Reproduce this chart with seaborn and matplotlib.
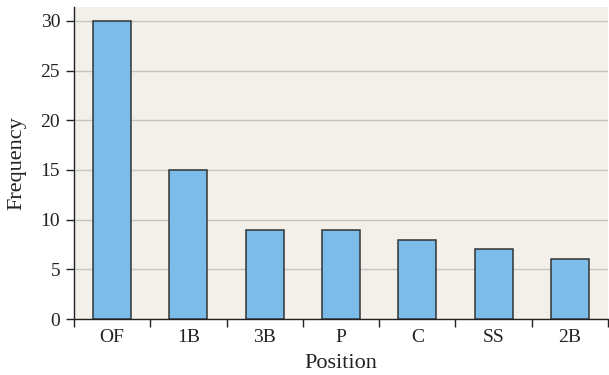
import matplotlib
matplotlib.use("Agg")
import matplotlib.pyplot as plt
import seaborn as sns
import pandas as pd
from matplotlib.ticker import FixedLocator

positions = ["OF", "1B", "3B", "P", "C", "SS", "2B"]
frequency = [30, 15, 9, 9, 8, 7, 6]
y_ticks = [0, 5, 10, 15, 20, 25, 30]

df = pd.DataFrame({"Position": positions, "Frequency": frequency})

sns.set_style("ticks")
plt.rcParams["font.family"] = ["Liberation Serif", "DejaVu Serif"]

fig = plt.figure(figsize=(6.09, 3.75), dpi=100)
ax = fig.add_axes([74 / 609, 56 / 375, 534 / 609, 312 / 375])
ax.set_facecolor("#f3f0ea")

sns.barplot(data=df, x="Position", y="Frequency", color="#7bbde8", saturation=1,
            width=0.5, edgecolor="#333333", linewidth=1.1, ax=ax, zorder=3)

ax.set_xlim(-0.5, len(positions) - 0.5)
ax.set_ylim(0, 31.4)
ax.set_yticks(y_ticks)
ax.yaxis.grid(True, color="#c4c4c4", linewidth=1.0, zorder=0)
ax.set_axisbelow(True)

# ticks between categories on the x axis
ax.xaxis.set_minor_locator(FixedLocator([i - 0.5 for i in range(len(positions) + 1)]))
ax.tick_params(axis="x", which="major", bottom=False, length=0, pad=7, labelsize=14, labelcolor="#222222")
ax.tick_params(axis="x", which="minor", bottom=True, length=6, width=1, color="#222222", direction="out")
ax.tick_params(axis="y", which="major", left=True, length=6, width=1, color="#222222",
               labelsize=14, pad=4, labelcolor="#222222")

for side in ["top", "right"]:
    ax.spines[side].set_visible(False)
for side in ["left", "bottom"]:
    ax.spines[side].set_color("#222222")
    ax.spines[side].set_linewidth(1.0)

ax.set_xlabel("Position", fontsize=16, labelpad=6, color="#222222")
ax.set_ylabel("Frequency", fontsize=16, labelpad=10, color="#222222")

fig.savefig("out.png", dpi=100)
